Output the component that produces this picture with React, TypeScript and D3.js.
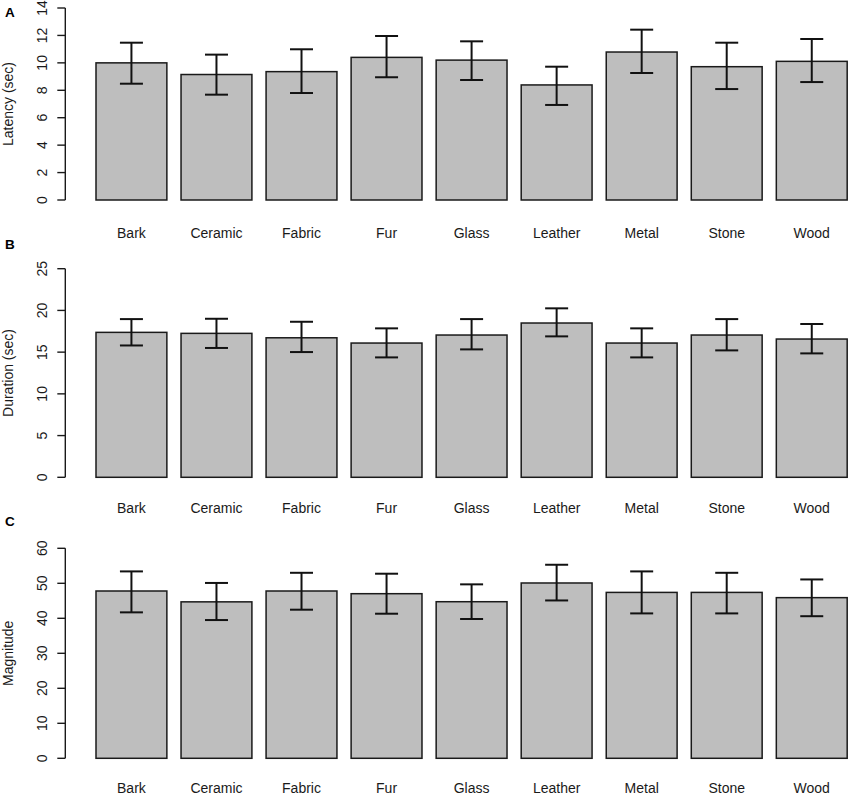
import { useEffect } from "react";
import * as d3 from "d3";

const categories = ["Bark", "Ceramic", "Fabric", "Fur", "Glass", "Leather", "Metal", "Stone", "Wood"];

// Panel A – latency (sec)
const latencyMean = [10.0, 9.15, 9.36, 10.4, 10.2, 8.39, 10.79, 9.72, 10.11];
const latencyUpper = [11.47, 10.6, 10.99, 11.96, 11.57, 9.72, 12.42, 11.47, 11.74];
const latencyLower = [8.48, 7.68, 7.8, 8.95, 8.75, 6.93, 9.26, 8.09, 8.6];
const latencyTicks = [0, 2, 4, 6, 8, 10, 12, 14];

// Panel B – duration (sec)
const durationMean = [17.37, 17.25, 16.72, 16.09, 17.05, 18.49, 16.09, 17.05, 16.57];
const durationUpper = [18.96, 19.0, 18.64, 17.85, 18.96, 20.25, 17.85, 18.96, 18.37];
const durationLower = [15.8, 15.5, 15.01, 14.37, 15.33, 16.89, 14.37, 15.21, 14.85];
const durationTicks = [0, 5, 10, 15, 20, 25];

// Panel C – magnitude
const magnitudeMean = [47.8, 44.7, 47.8, 47.03, 44.74, 50.09, 47.4, 47.4, 45.9];
const magnitudeUpper = [53.4, 50.1, 53.0, 52.74, 49.7, 55.3, 53.4, 53.0, 51.1];
const magnitudeLower = [41.7, 39.5, 42.46, 41.31, 39.8, 45.1, 41.4, 41.4, 40.6];
const magnitudeTicks = [0, 10, 20, 30, 40, 50, 60];

const WIDTH = 851;
const HEIGHT = 794;
const FONT = "'Liberation Sans', Arial, sans-serif";
const TEXT = "#1a1a1a";
const FS = 14;

// shared x scale: R barplot style, space = 0.2
const step = 85.04;
const x = d3
  .scaleBand<string>()
  .domain(categories)
  .range([96 - step / 12, 96 - step / 12 + step * categories.length])
  .paddingInner(1 / 6)
  .paddingOuter(1 / 12);

interface PanelProps {
  letter: string;
  title: string;
  mean: number[];
  upper: number[];
  lower: number[];
  ticks: number[];
  top: number;
  bottom: number;
  labelY: number;
  letterY: number;
}

function Panel({ letter, title, mean, upper, lower, ticks, top, bottom, labelY, letterY }: PanelProps) {
  const max = ticks[ticks.length - 1];
  const y = d3.scaleLinear().domain([0, max]).range([bottom, top]);
  const axisX = 65.3;
  const bw = x.bandwidth();
  const cap = 11.5;

  return (
    <g>
      <text x={5} y={letterY} fontFamily={FONT} fontWeight="bold" fontSize={13.5} fill="#000">
        {letter}
      </text>

      {/* y axis */}
      <line x1={axisX} x2={axisX} y1={y(0)} y2={y(max)} stroke={TEXT} strokeWidth={1.4} />
      {ticks.map((t) => (
        <g key={t}>
          <line x1={axisX - 8} x2={axisX} y1={y(t)} y2={y(t)} stroke={TEXT} strokeWidth={1.4} />
          <text
            transform={`translate(47,${y(t)}) rotate(-90)`}
            textAnchor="middle"
            fontFamily={FONT}
            fontSize={FS}
            fill={TEXT}
          >
            {t}
          </text>
        </g>
      ))}
      <text
        transform={`translate(12.5,${(y(0) + y(max)) / 2}) rotate(-90)`}
        textAnchor="middle"
        fontFamily={FONT}
        fontSize={FS}
        fill={TEXT}
      >
        {title}
      </text>

      {/* bars */}
      {categories.map((c, i) => (
        <rect
          key={c}
          x={x(c)}
          y={y(mean[i])}
          width={bw}
          height={y(0) - y(mean[i])}
          fill="#bebebe"
          stroke="#1a1a1a"
          strokeWidth={1.5}
        />
      ))}

      {/* error bars */}
      {categories.map((c, i) => {
        const cx = (x(c) as number) + bw / 2;
        return (
          <g key={c} stroke="#111" strokeWidth={2}>
            <line x1={cx} x2={cx} y1={y(upper[i])} y2={y(lower[i])} />
            <line x1={cx - cap} x2={cx + cap} y1={y(upper[i])} y2={y(upper[i])} />
            <line x1={cx - cap} x2={cx + cap} y1={y(lower[i])} y2={y(lower[i])} />
          </g>
        );
      })}

      {/* category labels */}
      {categories.map((c) => (
        <text
          key={c}
          x={(x(c) as number) + bw / 2}
          y={labelY}
          textAnchor="middle"
          fontFamily={FONT}
          fontSize={FS}
          fill={TEXT}
        >
          {c}
        </text>
      ))}
    </g>
  );
}

export default function App() {
  useEffect(() => {
    document.body.style.margin = "0";
  }, []);

  return (
    <svg width={WIDTH} height={HEIGHT} viewBox={`0 0 ${WIDTH} ${HEIGHT}`} style={{ display: "block", background: "#fff" }}>
      <Panel
        letter="A"
        title="Latency (sec)"
        mean={latencyMean}
        upper={latencyUpper}
        lower={latencyLower}
        ticks={latencyTicks}
        top={8}
        bottom={200}
        labelY={238}
        letterY={17.3}
      />
      <Panel
        letter="B"
        title="Duration (sec)"
        mean={durationMean}
        upper={durationUpper}
        lower={durationLower}
        ticks={durationTicks}
        top={268.7}
        bottom={477.3}
        labelY={513}
        letterY={249.3}
      />
      <Panel
        letter="C"
        title="Magnitude"
        mean={magnitudeMean}
        upper={magnitudeUpper}
        lower={magnitudeLower}
        ticks={magnitudeTicks}
        top={548.3}
        bottom={758.3}
        labelY={792.5}
        letterY={526}
      />
    </svg>
  );
}
